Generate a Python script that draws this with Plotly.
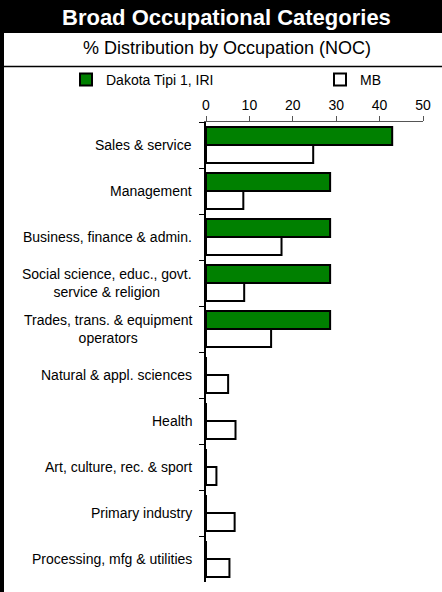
import plotly.graph_objects as go

categories = [
    "Sales & service",
    "Management",
    "Business, finance & admin.",
    "Social science, educ., govt.<br>service & religion",
    "Trades, trans. & equipment<br>operators",
    "Natural & appl. sciences",
    "Health",
    "Art, culture, rec. & sport",
    "Primary industry",
    "Processing, mfg & utilities",
]
dakota_values = [42.9, 28.6, 28.6, 28.6, 28.6, 0, 0, 0, 0, 0]
mb_values = [24.7, 8.6, 17.4, 8.8, 15.0, 5.1, 6.8, 2.4, 6.6, 5.4]
x_ticks = [0, 10, 20, 30, 40, 50]
series_names = ["Dakota Tipi 1, IRI", "MB"]

W, H = 442, 592
ML, MR, MT, MB_ = 206, 19, 122, 10
PW, PH = W - ML - MR, H - MT - MB_
FONT = "Liberation Sans, Arial, sans-serif"


def px_x(px):
    return (px - ML) / PW


def px_y(py):
    return 1 - (py - MT) / PH


fig = go.Figure()
fig.add_trace(go.Bar(
    y=categories, x=dakota_values, orientation="h", name=series_names[0],
    marker=dict(color="#008000", line=dict(color="black", width=2)),
    legend="legend", showlegend=True,
))
fig.add_trace(go.Bar(
    y=categories, x=mb_values, orientation="h", name=series_names[1],
    marker=dict(color="white", line=dict(color="black", width=2)),
    legend="legend2", showlegend=True,
))

shapes = [
    dict(type="rect", xref="paper", yref="paper", x0=px_x(0), x1=px_x(W),
         y0=px_y(0), y1=px_y(33), fillcolor="black", line=dict(width=0), layer="below"),
    dict(type="rect", xref="paper", yref="paper", x0=px_x(0), x1=px_x(4),
         y0=px_y(0), y1=px_y(H), fillcolor="black", line=dict(width=0), layer="below"),
    dict(type="line", xref="paper", yref="paper", x0=px_x(4), x1=px_x(W),
         y0=px_y(66.5), y1=px_y(66.5), line=dict(color="black", width=1.5)),
]

annotations = [
    dict(text="<b>Broad Occupational Categories</b>", xref="paper", yref="paper",
         x=px_x(226), y=px_y(17), xanchor="center", yanchor="middle", showarrow=False,
         font=dict(family=FONT, size=22, color="white")),
    dict(text="% Distribution by Occupation (NOC)", xref="paper", yref="paper",
         x=px_x(227), y=px_y(48), xanchor="center", yanchor="middle", showarrow=False,
         font=dict(family=FONT, size=18, color="black")),
]
for c in categories:
    annotations.append(dict(
        text=c, xref="paper", yref="y", x=px_x(194), y=c, xanchor="right",
        yanchor="middle", align="center", showarrow=False,
        font=dict(family=FONT, size=14, color="black"),
    ))

fig.update_layout(
    width=W, height=H,
    margin=dict(l=ML, r=MR, t=MT, b=MB_, pad=0),
    paper_bgcolor="white", plot_bgcolor="white",
    barmode="group", bargap=0.22, bargroupgap=0,
    font=dict(family=FONT, size=14, color="black"),
    shapes=shapes, annotations=annotations, showlegend=True,
    legend=dict(orientation="h", x=px_x(66), y=px_y(80), xanchor="left", yanchor="middle",
                bgcolor="rgba(0,0,0,0)", font=dict(size=14), visible=True),
    legend2=dict(orientation="h", x=px_x(320), y=px_y(80), xanchor="left", yanchor="middle",
                 bgcolor="rgba(0,0,0,0)", font=dict(size=14), visible=True),
    xaxis=dict(range=[0, 50], side="top", tickvals=x_ticks, showgrid=False, zeroline=False,
               showline=True, linecolor="#555", linewidth=1, ticks="outside", ticklen=5,
               tickcolor="#555", tickfont=dict(size=14), fixedrange=True),
    yaxis=dict(autorange="reversed", showticklabels=False, showgrid=False, zeroline=False,
               showline=True, linecolor="black", linewidth=1.5, ticks="outside", ticklen=5,
               tickson="boundaries", tickcolor="black", fixedrange=True),
)

fig.write_html("out.html", config={"displayModeBar": False},
               post_script="document.body.style.margin='0px';")
